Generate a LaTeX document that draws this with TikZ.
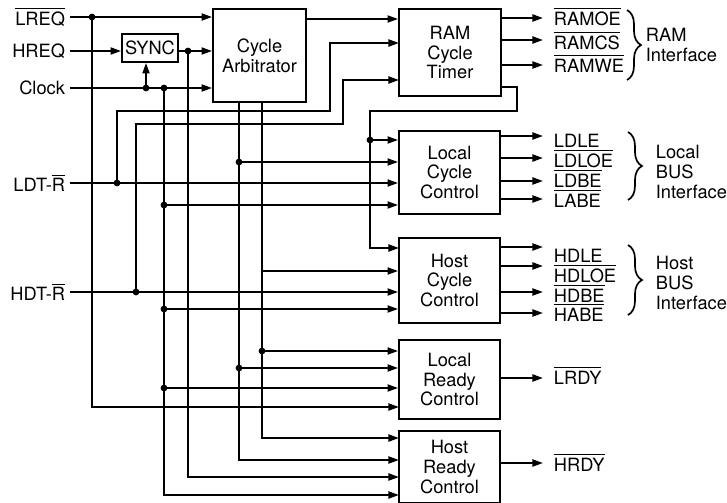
\documentclass[tikz,border=0pt]{standalone}
\usepackage{fontspec}
\setmainfont{TeX Gyre Heros}
\usetikzlibrary{arrows.meta,decorations.pathreplacing}
\newsavebox{\sigbox}
\newcommand{\nsig}[1]{\sbox{\sigbox}{#1}\rlap{\rule[\dimexpr\ht\sigbox+1.6pt\relax]{\wd\sigbox}{0.9pt}}\usebox{\sigbox}}

\begin{document}
\begin{tikzpicture}[
        x=0.25mm, y=-0.25mm,
        font=\fontsize{13}{14.2}\selectfont,
        line width=1.3pt,
        blk/.style={draw, align=center, inner sep=0pt},
        sig/.style={-{Triangle[length=7.5pt,width=5pt]}},
        insig/.style={anchor=east, inner xsep=1mm, inner ysep=0pt},
        outsig/.style={anchor=base west, inner xsep=2.5mm, inner ysep=0pt},
        busif/.style={anchor=west, align=left, inner sep=0pt},
        brc/.style={decorate, decoration={brace, amplitude=3.5mm}, line width=1.2pt}
    ]
        \useasboundingbox (0,0) rectangle (727,503);

        % Input signals
        \node[insig] (lreq) at (70,17) {\nsig{LREQ}};
        \node[insig] (hreq) at (70,51) {HREQ};
        \node[insig] (clk) at (70,88) {Clock};
        \node[insig] (ldt) at (70,183) {LDT-\nsig{R}};
        \node[insig] (hdt) at (70,292) {HDT-\nsig{R}};

        % Blocks
        \node[blk, minimum width=14mm, minimum height=7mm] (sync) at (150,48) {SYNC};
        \node[blk, minimum width=23.25mm, minimum height=23.25mm] (arb) at (259.5,55.5) {Cycle\\Arbitrator};
        \node[blk, minimum width=25.5mm, minimum height=21.75mm] (ram) at (450,52.5) {RAM\\Cycle\\Timer};
        \node[blk, minimum width=25.25mm, minimum height=20.75mm] (lcc) at (449.5,172.5) {Local\\Cycle\\Control};
        \node[blk, minimum width=25.25mm, minimum height=21.25mm] (hcc) at (449.5,280.5) {Host\\Cycle\\Control};
        \node[blk, minimum width=25.25mm, minimum height=19.75mm] (lrc) at (449.5,379.5) {Local\\Ready\\Control};
        \node[blk, minimum width=25.25mm, minimum height=18mm] (hrc) at (449.5,467) {Host\\Ready\\Control};

        % Junctions and pins
        \coordinate (jl) at (92,17);
        \coordinate (js) at (188,51);
        \coordinate (ck1) at (146,88);
        \coordinate (ck2) at (164,88);
        \coordinate (jd1) at (117,183);
        \coordinate (jd2) at (136,292);
        \coordinate (a1) at (239,102);
        \coordinate (a2) at (262,102);
        \coordinate (tl1) at (370,140);
        \coordinate (tl2) at (239,162);
        \coordinate (tl4) at (164,205);
        \coordinate (th2) at (262,271);
        \coordinate (th4) at (164,309);
        \coordinate (tr1) at (262,351);
        \coordinate (tr2) at (239,368);
        \coordinate (tr3) at (164,388);
        \coordinate (ram2) at (399,43);
        \coordinate (ram3) at (399,80);
        \coordinate (hcc1) at (399,248);
        \coordinate (lrc4) at (399,407);
        \coordinate (hrc1) at (399,438);
        \coordinate (hrc2) at (399,460);
        \coordinate (hrc3) at (399,477);
        \coordinate (hrc4) at (399,495);

        % Arbitrator inputs
        \draw[sig] (lreq.east) -- (lreq.east -| arb.west);
        \draw[sig] (hreq.east) -- (hreq.east -| sync.west);
        \draw[sig] (sync.east |- js) -- (js -| arb.west);
        \draw[sig] (clk.east) -- (clk.east -| arb.west);
        \draw[sig] (ck1) -- (ck1 |- sync.south);
        \draw[sig] (arb.east |- 0,19) -- (ram.west |- 0,19);

        % Buses
        \draw[sig] (jl) |- (lrc4);
        \draw[sig] (js) |- (hrc3);
        \draw[sig] (ck2) |- (hrc4);
        \draw[sig] (a1) |- (hrc2);
        \draw[sig] (a2) |- (hrc1);
        \draw[sig] (ldt.east) -- (ldt.east -| lcc.west);
        \draw[sig] (hdt.east) -- (hdt.east -| hcc.west);
        \draw[sig] (jd1) |- (330,111) |- (ram2);
        \draw[sig] (jd2) |- (343,124) |- (ram3);
        \draw[sig] (ram.east |- 0,87) -| (517,111) -| (370,248) -- (hcc1);

        % Taps
        \draw[sig] (tl1) -- (tl1 -| lcc.west);
        \draw[sig] (tl2) -- (tl2 -| lcc.west);
        \draw[sig] (tl4) -- (tl4 -| lcc.west);
        \draw[sig] (th2) -- (th2 -| hcc.west);
        \draw[sig] (th4) -- (th4 -| hcc.west);
        \draw[sig] (tr1) -- (tr1 -| lrc.west);
        \draw[sig] (tr2) -- (tr2 -| lrc.west);
        \draw[sig] (tr3) -- (tr3 -| lrc.west);
        \foreach \p in {jl,js,ck1,ck2,jd1,jd2,tl1,tl2,tl4,th4,tr1,tr2,tr3}
            \fill (\p) circle[radius=0.85mm];

        % Outputs
        \node[outsig] (ramoe) at (543,25) {\nsig{RAMOE}};
        \node[outsig] (ramcs) at (543,49) {\nsig{RAMCS}};
        \node[outsig] (ramwe) at (543,72) {\nsig{RAMWE}};
        \node[outsig] (ldle) at (543,147) {LDLE};
        \node[outsig] (ldloe) at (543,167) {\nsig{LDLOE}};
        \node[outsig] (ldbe) at (543,187) {\nsig{LDBE}};
        \node[outsig] (labe) at (543,207) {\nsig{LABE}};
        \node[outsig] (hdle) at (543,262) {HDLE};
        \node[outsig] (hdloe) at (543,282) {\nsig{HDLOE}};
        \node[outsig] (hdbe) at (543,302) {\nsig{HDBE}};
        \node[outsig] (habe) at (543,321) {\nsig{HABE}};
        \node[outsig] (lrdy) at (543,384) {\nsig{LRDY}};
        \node[outsig] (hrdy) at (543,471) {\nsig{HRDY}};

        \draw[sig] (ram.east |- 0,18) -- (ramoe.west |- 0,18);
        \draw[sig] (ram.east |- 0,40) -- (ramcs.west |- 0,40);
        \draw[sig] (ram.east |- 0,65) -- (ramwe.west |- 0,65);
        \draw[sig] (lcc.east |- 0,136) -- (ldle.west |- 0,136);
        \draw[sig] (lcc.east |- 0,158) -- (ldloe.west |- 0,158);
        \draw[sig] (lcc.east |- 0,181) -- (ldbe.west |- 0,181);
        \draw[sig] (lcc.east |- 0,199) -- (labe.west |- 0,199);
        \draw[sig] (hcc.east |- 0,247) -- (hdle.west |- 0,247);
        \draw[sig] (hcc.east |- 0,266) -- (hdloe.west |- 0,266);
        \draw[sig] (hcc.east |- 0,292) -- (hdbe.west |- 0,292);
        \draw[sig] (hcc.east |- 0,313) -- (habe.west |- 0,313);
        \draw[sig] (lrc.east |- 0,378) -- (lrdy.west |- 0,378);
        \draw[sig] (hrc.east |- 0,463) -- (hrdy.west |- 0,463);

        % Interfaces
        \draw[brc] (627,10) -- (627,80);
        \draw[brc] (628,132) -- (628,200);
        \draw[brc] (628,245) -- (628,315);
        \node[busif] (ramif) at (645,45) {RAM\\Interface};
        \node[busif] (locif) at (655,172) {Local\\BUS\\Interface};
        \node[busif] (hostif) at (655,283) {Host\\BUS\\Interface};
\end{tikzpicture}
\end{document}
